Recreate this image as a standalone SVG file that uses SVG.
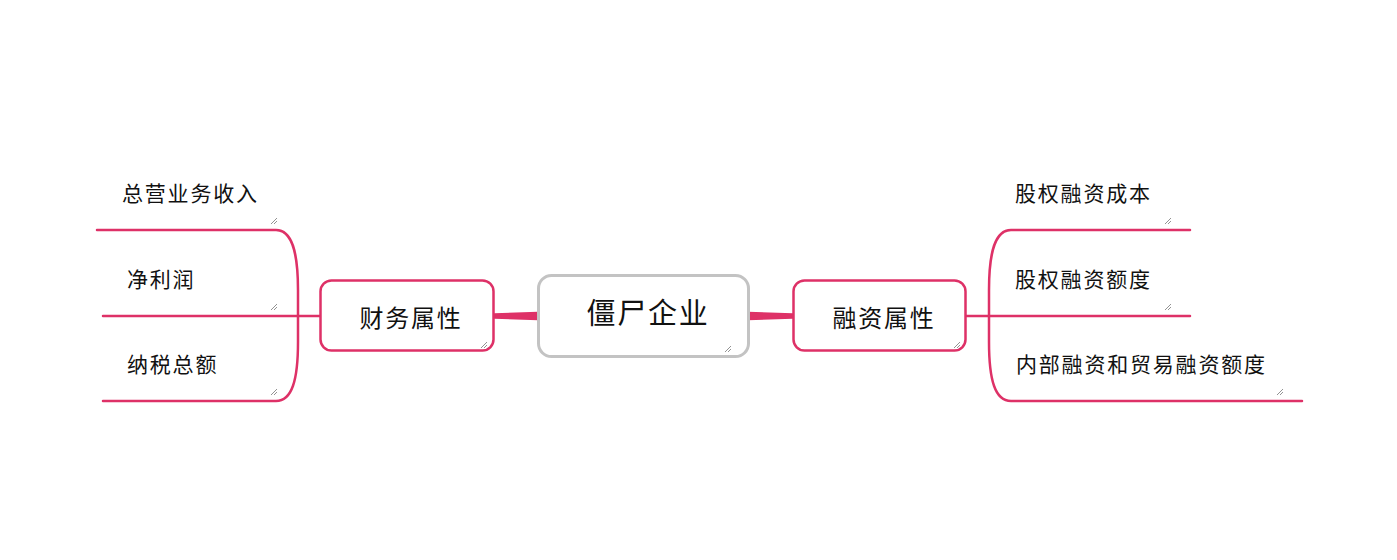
<svg xmlns="http://www.w3.org/2000/svg" width="1397" height="560" viewBox="0 0 1397 560">
  <style>
    .lbl { font-family: "Noto Sans CJK SC", "Noto Sans", sans-serif; fill: #111; dominant-baseline: central; }
    .leaf { font-size: 21px; letter-spacing: 1.8px; }
    .mid { font-size: 24px; letter-spacing: 1.8px; text-anchor: middle; }
    .root { font-size: 29px; letter-spacing: 1.8px; text-anchor: middle; }
    .branch { fill: none; stroke: #de3167; stroke-width: 2.5; stroke-linecap: round; }
    .box { fill: #fff; stroke: #de3167; stroke-width: 2.5; }
    .grip { fill: none; stroke: #777; stroke-width: 0.8; }
  </style>
  <defs>
    <!-- resize grip shown in the corner of each topic -->
    <g id="grip">
      <path class="grip" d="M -6 0 L 0 -6 M -3 0 L 0 -3"/>
    </g>
  </defs>

  <rect width="1397" height="560" fill="#fff"/>

  <g id="connectors">
    <!-- tapered links from the root to the main topics -->
    <path d="M 494 313.2 L 538 311.8 L 538 320.2 L 494 318.8 Z" fill="#de3167"/>
    <path d="M 748 311.8 L 793 313.2 L 793 318.8 L 748 320.2 Z" fill="#de3167"/>
    <!-- left bracket -->
    <path class="branch" d="M 320 316 H 298"/>
    <path class="branch" d="M 97 230 H 276 C 292 230 298 252 298 290 V 342 C 298 380 292 401 276 401 H 103"/>
    <path class="branch" d="M 103 316 H 298"/>
    <!-- right bracket -->
    <path class="branch" d="M 966 316 H 989"/>
    <path class="branch" d="M 1190 230 H 1011 C 995 230 989 252 989 290 V 342 C 989 380 995 401 1011 401 H 1302"/>
    <path class="branch" d="M 989 316 H 1190"/>
  </g>

  <g id="root">
    <rect x="538.5" y="275.5" width="210" height="81" rx="13" fill="#fff" stroke="#c3c3c3" stroke-width="3"/>
    <text class="lbl root" x="648" y="311">僵尸企业</text>
    <use href="#grip" x="731" y="352"/>
  </g>

  <g id="topic-finance">
    <rect class="box" x="320.5" y="280.5" width="173" height="70" rx="11"/>
    <text class="lbl mid" x="411" y="316">财务属性</text>
    <use href="#grip" x="487" y="348"/>
  </g>

  <g id="topic-funding">
    <rect class="box" x="793.5" y="280.5" width="172" height="70" rx="11"/>
    <text class="lbl mid" x="884" y="316">融资属性</text>
    <use href="#grip" x="960" y="348"/>
  </g>

  <g id="leaf-revenue">
    <text class="lbl leaf" x="122" y="192">总营业务收入</text>
    <use href="#grip" x="277" y="224"/>
  </g>
  <g id="leaf-profit">
    <text class="lbl leaf" x="127" y="278">净利润</text>
    <use href="#grip" x="277" y="310"/>
  </g>
  <g id="leaf-tax">
    <text class="lbl leaf" x="127" y="363">纳税总额</text>
    <use href="#grip" x="277" y="395"/>
  </g>

  <g id="leaf-equity-cost">
    <text class="lbl leaf" x="1015" y="192">股权融资成本</text>
    <use href="#grip" x="1171" y="224"/>
  </g>
  <g id="leaf-equity-amount">
    <text class="lbl leaf" x="1015" y="278">股权融资额度</text>
    <use href="#grip" x="1171" y="310"/>
  </g>
  <g id="leaf-internal-trade">
    <text class="lbl leaf" x="1016" y="363">内部融资和贸易融资额度</text>
    <use href="#grip" x="1283" y="395"/>
  </g>
</svg>
